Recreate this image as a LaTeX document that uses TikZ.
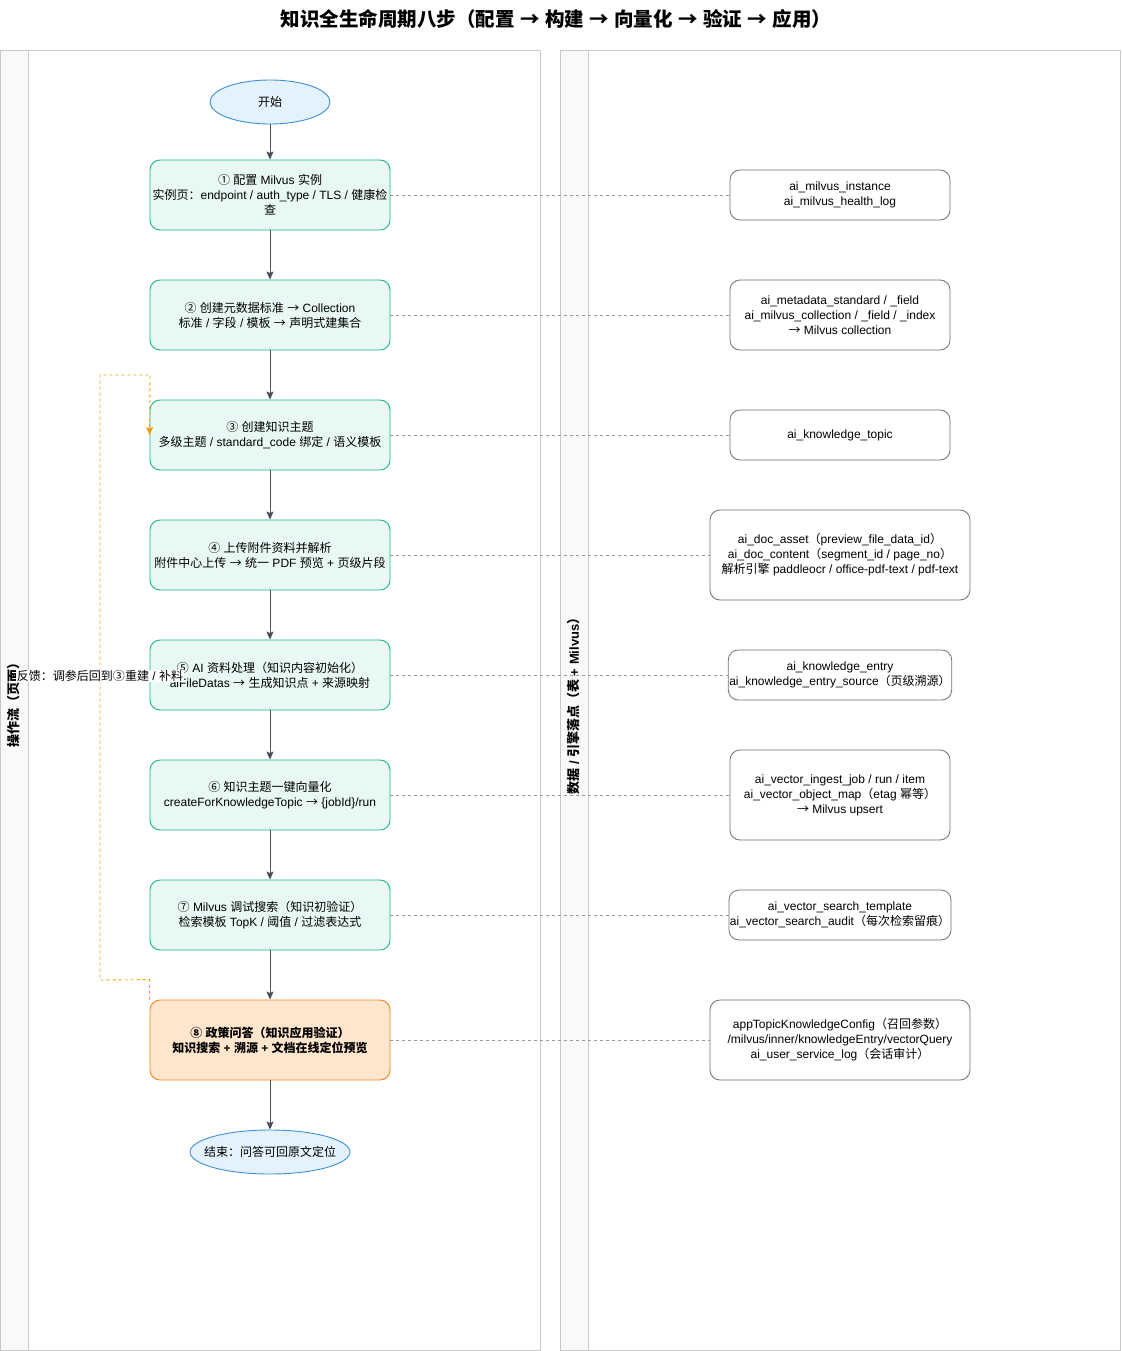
\documentclass[tikz,border=0pt]{standalone}
\usepackage{fontspec}
\setmainfont{Liberation Sans}
\newfontfamily\cjkf{Noto Sans CJK SC}
\newfontfamily\latf{Liberation Sans}
\usetikzlibrary{arrows.meta,shapes.geometric}
\makeatletter
\newXeTeXintercharclass\cjkclass
\def\setcjkrange#1#2{\count@=#1\relax
  \loop\XeTeXcharclass\count@=\cjkclass\relax
  \ifnum\count@<#2\relax\advance\count@ by 1\relax\repeat}
\setcjkrange{"4E00}{"9FFF}
\setcjkrange{"3000}{"303F}
\setcjkrange{"FF00}{"FFEF}
\setcjkrange{"2460}{"2473}
\setcjkrange{"2192}{"2192}
\makeatother
\XeTeXinterchartoks 0 \cjkclass={\cjkf}
\XeTeXinterchartoks 4095 \cjkclass={\cjkf}
\XeTeXinterchartoks \cjkclass 0={\latf}
\XeTeXinterchartoks \cjkclass 4095={\latf}
\XeTeXinterchartokenstate=1
\definecolor{stepfill}{HTML}{E8F9F2}
\definecolor{stepdraw}{HTML}{1DB584}
\definecolor{appfill}{HTML}{FFE6CC}
\definecolor{appdraw}{HTML}{F5861F}
\definecolor{ovfill}{HTML}{E3F2FD}
\definecolor{ovdraw}{HTML}{3D8FE0}
\definecolor{datadraw}{HTML}{6E7079}
\definecolor{lanedraw}{HTML}{C8C8C8}
\definecolor{lanehead}{HTML}{F8F9FA}
\definecolor{flowarrow}{HTML}{4A4F57}
\definecolor{linkline}{HTML}{9A9A9A}
\definecolor{fbline}{HTML}{F0A000}
\begin{document}
\begin{tikzpicture}[x=1pt,y=-1pt,
  txt/.style={font=\fontsize{12}{15}\selectfont, align=center, text=black},
  stepbox/.style={txt, rectangle, rounded corners=10pt, draw=stepdraw, fill=stepfill, line width=0.9pt, minimum width=240pt, minimum height=70pt, inner sep=1pt},
  appbox/.style={stepbox, draw=appdraw, fill=appfill, minimum height=80pt, font=\bfseries\fontsize{12}{15}\selectfont},
  ovbox/.style={txt, ellipse, draw=ovdraw, fill=ovfill, line width=0.9pt, minimum width=120pt, minimum height=44pt, inner sep=0pt},
  databox/.style={txt, rectangle, rounded corners=10pt, draw=datadraw, fill=white, line width=0.8pt, minimum width=220pt, minimum height=50pt, inner sep=1pt},
  flow/.style={draw=flowarrow, line width=0.9pt, -{Stealth[length=8pt,width=7pt,inset=1.5pt]}},
  link/.style={draw=linkline, line width=0.7pt, dash pattern=on 3pt off 3pt},
  fb/.style={draw=fbline, line width=0.9pt, dash pattern=on 3pt off 3pt, -{Stealth[length=8pt,width=7pt,inset=1.5pt]}},
  lane/.style={draw=lanedraw, line width=0.8pt, fill=white},
  lanebar/.style={draw=lanedraw, line width=0.8pt, fill=lanehead},
  lanelabel/.style={font=\bfseries\fontsize{13}{15}\selectfont, rotate=90}
]
\useasboundingbox (0,0) rectangle (1121,1351);
% title
\node[font=\bfseries\fontsize{19.5}{23}\selectfont] (title) at (556,19) {知识全生命周期八步（配置 → 构建 → 向量化 → 验证 → 应用）};
% lanes
\draw[lane] (0,50) rectangle (540,1350);
\draw[lanebar] (0,50) rectangle (28,1350);
\draw[lane] (560,50) rectangle (1120,1350);
\draw[lanebar] (560,50) rectangle (588,1350);
\node[lanelabel] (lane1) at (14,702) {操作流（页面）};
\node[lanelabel] (lane2) at (574,703) {数据 / 引擎落点（表 + Milvus）};
% flow nodes
\node[ovbox] (s) at (270,102) {开始};
\node[stepbox] (n1) at (270,195) {① 配置 Milvus 实例\\实例页：endpoint / auth\_type / TLS / 健康检\\查};
\node[stepbox] (n2) at (270,315) {② 创建元数据标准 → Collection\\标准 / 字段 / 模板 → 声明式建集合};
\node[stepbox] (n3) at (270,435) {③ 创建知识主题\\多级主题 / standard\_code 绑定 / 语义模板};
\node[stepbox] (n4) at (270,555) {④ 上传附件资料并解析\\附件中心上传 → 统一 PDF 预览 + 页级片段};
\node[stepbox] (n5) at (270,675) {⑤ AI 资料处理（知识内容初始化）\\aiFileDatas → 生成知识点 + 来源映射};
\node[stepbox] (n6) at (270,795) {⑥ 知识主题一键向量化\\createForKnowledgeTopic → \{jobId\}/run};
\node[stepbox] (n7) at (270,915) {⑦ Milvus 调试搜索（知识初验证）\\检索模板 TopK / 阈值 / 过滤表达式};
\node[appbox] (n8) at (270,1040) {⑧ 政策问答（知识应用验证）\\知识搜索 + 溯源 + 文档在线定位预览};
\node[ovbox, minimum width=160pt] (e) at (270,1152) {\makebox[100pt]{结束：问答可回原文定位}};
% data nodes
\node[databox] (d1) at (840,195) {ai\_milvus\_instance\\ai\_milvus\_health\_log};
\node[databox, minimum height=70pt] (d2) at (840,315) {ai\_metadata\_standard / \_field\\ai\_milvus\_collection / \_field / \_index\\→ Milvus collection};
\node[databox] (d3) at (840,435) {ai\_knowledge\_topic};
\node[databox, minimum width=260pt, minimum height=90pt] (d4) at (840,555) {ai\_doc\_asset（preview\_file\_data\_id）\\ai\_doc\_content（segment\_id / page\_no）\\解析引擎 paddleocr / office-pdf-text / pdf-text};
\node[databox] (d5) at (840,675) {ai\_knowledge\_entry\\ai\_knowledge\_entry\_source（页级溯源）};
\node[databox, minimum height=90pt] (d6) at (840,795) {ai\_vector\_ingest\_job / run / item\\ai\_vector\_object\_map（etag 幂等）\\→ Milvus upsert};
\node[databox] (d7) at (840,915) {ai\_vector\_search\_template\\ai\_vector\_search\_audit（每次检索留痕）};
\node[databox, minimum width=260pt, minimum height=80pt] (d8) at (840,1040) {appTopicKnowledgeConfig（召回参数）\\/milvus/inner/knowledgeEntry/vectorQuery\\ai\_user\_service\_log（会话审计）};
% links
\draw[link] (n1.east) -- (d1.west);
\draw[link] (n2.east) -- (d2.west);
\draw[link] (n3.east) -- (d3.west);
\draw[link] (n4.east) -- (d4.west);
\draw[link] (n5.east) -- (d5.west);
\draw[link] (n6.east) -- (d6.west);
\draw[link] (n7.east) -- (d7.west);
\draw[link] (n8.east) -- (d8.west);
% flow
\draw[flow] (s.south) -- (n1.north);
\draw[flow] (n1.south) -- (n2.north);
\draw[flow] (n2.south) -- (n3.north);
\draw[flow] (n3.south) -- (n4.north);
\draw[flow] (n4.south) -- (n5.north);
\draw[flow] (n5.south) -- (n6.north);
\draw[flow] (n6.south) -- (n7.north);
\draw[flow] (n7.south) -- (n8.north);
\draw[flow] (n8.south) -- (e.north);
% feedback
\draw[fb] (n8.north west) -- ++(0,-20) -- (100,980) -- (100,375) -- (150,375) -- (n3.west);
\node[txt, fill=white, inner sep=0.5pt] (fbl) at (100,676) {反馈：调参后回到③重建 / 补料};
\end{tikzpicture}
\end{document}
